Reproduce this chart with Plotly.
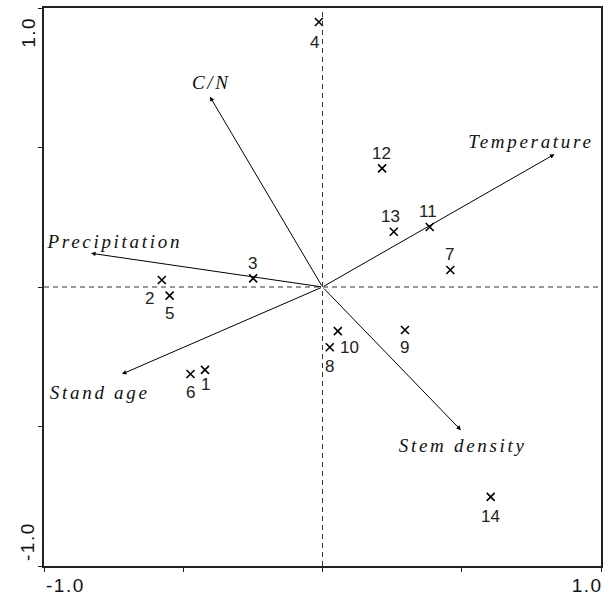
import plotly.graph_objects as go

# Site scores
sites = ["1", "2", "3", "4", "5", "6", "7", "8", "9", "10", "11", "12", "13", "14"]
site_x = [-0.422, -0.577, -0.249, -0.013, -0.549, -0.474, 0.459, 0.026, 0.296, 0.055, 0.385, 0.214, 0.256, 0.604]
site_y = [-0.297, 0.025, 0.031, 0.950, -0.031, -0.312, 0.061, -0.216, -0.154, -0.158, 0.215, 0.425, 0.198, -0.752]

# Environmental variable vectors
variables = ["C/N", "Precipitation", "Stand age", "Temperature", "Stem density"]
var_x = [-0.404, -0.831, -0.720, 0.833, 0.497]
var_y = [0.682, 0.121, -0.312, 0.476, -0.513]

# Axis ticks
tick_vals = [-1.0, -0.5, 0.0, 0.5, 1.0]
tick_labels = ["-1.0", "1.0"]

# label offsets (pixels) for site numbers: (dx, dy)
site_offsets = {
    "1": (1, -15), "2": (-12, -18), "3": (-1, 15), "4": (-4, -21), "5": (0, -18),
    "6": (0, -18), "7": (-1, 15), "8": (0, -19), "9": (0, -18), "10": (12, -16),
    "11": (-2, 16), "12": (-1, 15), "13": (-3, 15), "14": (0, -20),
}
# variable label offsets (pixels) from arrow tip
var_offsets = {
    "C/N": (2, 14), "Precipitation": (23, 12), "Stand age": (-22, -18),
    "Temperature": (-23, 13), "Stem density": (2, -15),
}

fig = go.Figure()

fig.add_trace(go.Scatter(
    x=site_x, y=site_y, mode="markers",
    marker=dict(symbol="x-thin", size=8, line=dict(width=1.6, color="black"), color="black"),
    hoverinfo="skip", showlegend=False,
))

annotations = []
for s, x, y in zip(sites, site_x, site_y):
    dx, dy = site_offsets[s]
    annotations.append(dict(
        x=x, y=y, xref="x", yref="y", text=s, showarrow=False,
        xshift=dx, yshift=dy,
        font=dict(family="Liberation Sans, Arial, sans-serif", size=17, color="#222"),
    ))

for v, x, y in zip(variables, var_x, var_y):
    annotations.append(dict(
        x=x, y=y, xref="x", yref="y", ax=0, ay=0, axref="x", ayref="y",
        text="", showarrow=True, arrowhead=2, arrowsize=0.9, arrowwidth=1,
        arrowcolor="black", standoff=0,
    ))
    dx, dy = var_offsets[v]
    annotations.append(dict(
        x=x, y=y, xref="x", yref="y", text="<i>" + v + "</i>", showarrow=False,
        xshift=dx, yshift=dy,
        font=dict(family="Liberation Serif, Times New Roman, serif", size=19, color="#111"),
    ))

tick_font = dict(family="Liberation Sans, Arial, sans-serif", size=19, color="#111")
annotations += [
    dict(x=-1.0, y=0, xref="x", yref="paper", text=tick_labels[0], showarrow=False,
         xanchor="left", yanchor="top", yshift=-7, xshift=3, font=tick_font),
    dict(x=1.0, y=0, xref="x", yref="paper", text=tick_labels[1], showarrow=False,
         xanchor="right", yanchor="top", yshift=-7, xshift=1, font=tick_font),
    dict(x=0, y=1.0, xref="paper", yref="y", text=tick_labels[1], showarrow=False,
         xanchor="right", yanchor="top", textangle=-90, xshift=-4, yshift=-10, font=tick_font),
    dict(x=0, y=-1.0, xref="paper", yref="y", text=tick_labels[0], showarrow=False,
         xanchor="right", yanchor="bottom", textangle=-90, xshift=-4, yshift=6, font=tick_font),
]

shapes = [
    dict(type="line", x0=0, x1=0, y0=-1, y1=1, xref="x", yref="y",
         line=dict(color="#333", width=1, dash="5px,4px")),
    dict(type="line", x0=-1, x1=1, y0=0, y1=0, xref="x", yref="y",
         line=dict(color="#333", width=1, dash="5px,4px")),
]

axis_common = dict(
    range=[-1, 1], tickvals=tick_vals, showticklabels=False, ticks="outside",
    ticklen=4, tickwidth=1, tickcolor="#222", showline=True, linecolor="#222",
    linewidth=1.5, mirror=True, showgrid=False, zeroline=False,
)

fig.update_layout(
    width=609, height=597,
    margin=dict(l=44, r=6, t=8, b=31),
    plot_bgcolor="white", paper_bgcolor="white",
    xaxis=axis_common, yaxis=axis_common,
    annotations=annotations, shapes=shapes,
)

post = """
document.body.style.margin = '0';
document.body.style.overflow = 'hidden';
document.querySelectorAll('.annotation-text').forEach(function (t) {
  var txt = t.textContent;
  if (/[A-Za-z]/.test(txt)) { t.style.letterSpacing = '2.7px'; }
  else if (txt.indexOf('.') >= 0) { t.style.letterSpacing = '1.5px'; }
});
"""

fig.write_html("out.html", post_script=post, config={"displayModeBar": False})
